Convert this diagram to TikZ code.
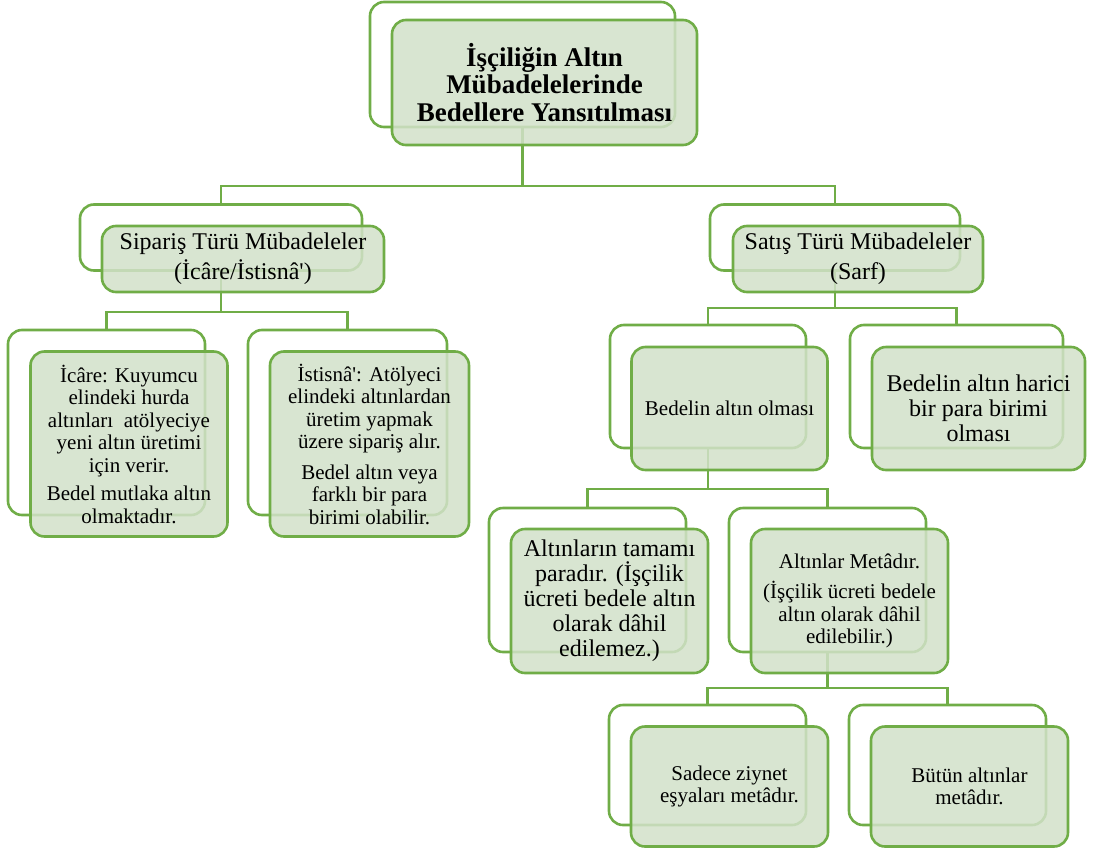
\documentclass[tikz,border=0pt]{standalone}
\usepackage{fontspec}
\setmainfont{Liberation Serif}
\usetikzlibrary{positioning}

\definecolor{kenar}{RGB}{112,173,71}
\definecolor{dolgu}{RGB}{210,225,201}

\begin{document}
\begin{tikzpicture}[x=1pt,y=-1pt]
\tikzstyle{frame}=[rectangle, rounded corners=14pt, line width=2.6pt, draw=kenar, fill=white]
\tikzstyle{card}=[rectangle, rounded corners=14pt, line width=2.6pt, draw=kenar, fill=dolgu, fill opacity=0.85, text opacity=1, align=center, inner sep=2pt]
\tikzstyle{title}=[font=\fontsize{27}{27.5}\selectfont\bfseries]
\tikzstyle{big}=[font=\fontsize{24}{25}\selectfont]
\tikzstyle{small}=[font=\fontsize{21}{22.5}\selectfont]
\tikzstyle{connect}=[line width=2.6pt, draw=kenar]
\useasboundingbox (0,0) rectangle (1093,857);
	% back frames
	\node[frame, minimum width=305pt, minimum height=125pt] (f_kok) at (522.5,64.5) {};
	\node[frame, minimum width=282pt, minimum height=66pt] (f_sip) at (221,237.5) {};
	\node[frame, minimum width=250pt, minimum height=66pt] (f_sat) at (835,237.5) {};
	\node[frame, minimum width=197pt, minimum height=185pt] (f_icr) at (106.5,422.5) {};
	\node[frame, minimum width=199pt, minimum height=185pt] (f_ist) at (347.5,422.5) {};
	\node[frame, minimum width=196pt, minimum height=123pt] (f_alt) at (708,386.5) {};
	\node[frame, minimum width=213pt, minimum height=123pt] (f_har) at (956.5,386.5) {};
	\node[frame, minimum width=197pt, minimum height=144pt] (f_par) at (587.5,580) {};
	\node[frame, minimum width=197pt, minimum height=144pt] (f_met) at (827.5,580) {};
	\node[frame, minimum width=197pt, minimum height=120pt] (f_ziy) at (707.5,765) {};
	\node[frame, minimum width=197pt, minimum height=120pt] (f_but) at (947.5,765) {};

	% tree lines
	\draw[connect] (f_kok.south) -- (f_kok.south |- 0,186) -| (f_sip.north);
	\draw[connect] (f_kok.south |- 0,186) -| (f_sat.north);
	\draw[connect] (f_sip.south) -- (f_sip.south |- 0,312) -| (f_icr.north);
	\draw[connect] (f_sip.south |- 0,312) -| (f_ist.north);
	\draw[connect] (f_sat.south) -- (f_sat.south |- 0,308) -| (f_alt.north);
	\draw[connect] (f_sat.south |- 0,308) -| (f_har.north);
	\draw[connect] (f_alt.south) -- (f_alt.south |- 0,489) -| (f_par.north);
	\draw[connect] (f_alt.south |- 0,489) -| (f_met.north);
	\draw[connect] (f_met.south) -- (f_met.south |- 0,688) -| (f_ziy.north);
	\draw[connect] (f_met.south |- 0,688) -| (f_but.north);

	% front cards
	\node[card, title, minimum width=305pt, minimum height=125pt] (kok) at (544.5,82.5)
		{İşçiliğin Altın\\Mübadelelerinde\\Bedellere Yansıtılması};
	\node[card, big, minimum width=282pt, minimum height=66pt] (sip) at (243,259)
		{Sipariş Türü Mübadeleler\\[5pt](İcâre/İstisnâ\textquotesingle)};
	\node[card, big, minimum width=250pt, minimum height=66pt] (sat) at (858,259)
		{Satış Türü Mübadeleler\\[5pt](Sarf)};
	\node[card, small, minimum width=197pt, minimum height=185pt] (icr) at (129,444)
		{İcâre: Kuyumcu\\elindeki hurda\\altınları\ \ atölyeciye\\yeni altın üretimi\\için verir.\\[6pt]Bedel mutlaka altın\\olmaktadır.};
	\node[card, small, minimum width=199pt, minimum height=185pt] (ist) at (369.5,444)
		{İstisnâ\textquotesingle: Atölyeci\\elindeki altınlardan\\üretim yapmak\\üzere sipariş alır.\\[8pt]Bedel altın veya\\farklı bir para\\birimi olabilir.};
	\node[card, small, minimum width=196pt, minimum height=123pt] (alt) at (729.5,408.5)
		{Bedelin altın olması};
	\node[card, big, minimum width=213pt, minimum height=123pt] (har) at (978.5,408.5)
		{Bedelin altın harici\\bir para birimi\\olması};
	\node[card, big, minimum width=197pt, minimum height=144pt] (par) at (609.5,601)
		{Altınların tamamı\\paradır. (İşçilik\\ücreti bedele altın\\olarak dâhil\\edilemez.)};
	\node[card, small, minimum width=197pt, minimum height=144pt] (met) at (849.5,601)
		{Altınlar Metâdır.\\[8pt](İşçilik ücreti bedele\\altın olarak dâhil\\edilebilir.)};
	\node[card, small, minimum width=197pt, minimum height=120pt] (ziy) at (729.5,786.5)
		{Sadece ziynet\\eşyaları metâdır.};
	\node[card, small, minimum width=197pt, minimum height=120pt] (but) at (969.5,786.5)
		{Bütün altınlar\\metâdır.};
\end{tikzpicture}
\end{document}
